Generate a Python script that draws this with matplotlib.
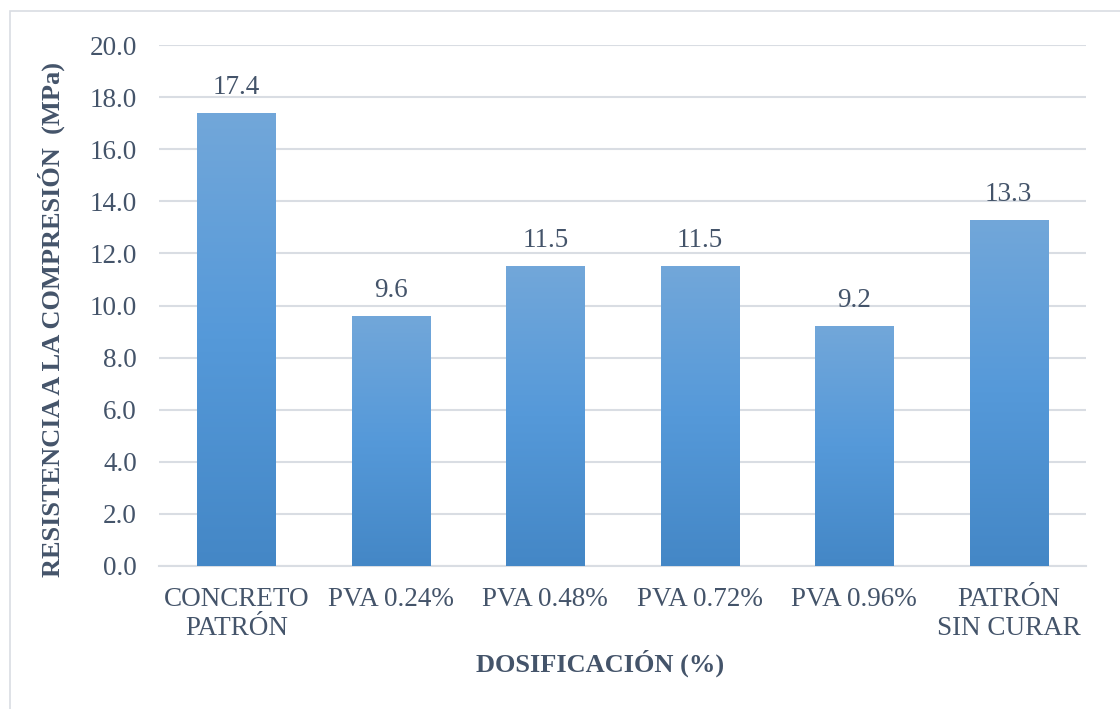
import numpy as np
import matplotlib.pyplot as plt
from matplotlib.patches import Rectangle
from matplotlib.colors import LinearSegmentedColormap

# Data
categories = ["CONCRETO\nPATRÓN", "PVA 0.24%", "PVA 0.48%", "PVA 0.72%", "PVA 0.96%", "PATRÓN\nSIN CURAR"]
values = [17.4, 9.6, 11.5, 11.5, 9.2, 13.3]
yticks = [0, 2, 4, 6, 8, 10, 12, 14, 16, 18, 20]

plt.rcParams['font.family'] = ['Liberation Serif', 'DejaVu Serif']
txt = '#44546A'

fig = plt.figure(figsize=(11.2, 7.09), dpi=100)
ax = fig.add_axes([0.142, 0.2017, 0.8276, 0.7348])

# outer chart border
fig.patches.append(Rectangle((10 / 1120, -0.05), 1.2, 1 - 11 / 709 + 0.05,
                             transform=fig.transFigure, fill=False,
                             edgecolor='#D9DDE3', linewidth=1.2))

x = np.arange(len(categories))
bars = ax.bar(x, values, width=0.505, color='none', zorder=3)

# vertical gradient fill for each bar
grad = np.linspace(0, 1, 256).reshape(-1, 1)
cmap = LinearSegmentedColormap.from_list('bar', ['#4487C6', '#5599D9', '#72A7DA'])
for b in bars:
    x0, w, h = b.get_x(), b.get_width(), b.get_height()
    im = ax.imshow(grad, cmap=cmap, aspect='auto', origin='lower',
                   extent=[x0, x0 + w, 0, h], zorder=3)
    im.set_clip_path(b)

for xi, v in zip(x, values):
    ax.text(xi, v + 0.5, f"{v:.1f}", ha='center', va='bottom', fontsize=19.5, color=txt)

ax.set_xlim(-0.5, len(categories) - 0.5)
ax.set_ylim(0, 20)
ax.set_yticks(yticks)
ax.set_yticklabels([f"{t:.1f}" for t in yticks])
ax.set_xticks(x)
ax.set_xticklabels(categories, linespacing=1.22)
ax.tick_params(axis='both', length=0, labelsize=19.5, labelcolor=txt)
ax.tick_params(axis='y', pad=16)
ax.tick_params(axis='x', pad=15)

ax.grid(axis='y', color='#D9DDE3', linewidth=1.5, zorder=0)
ax.set_axisbelow(True)
for s in ['top', 'right', 'left']:
    ax.spines[s].set_visible(False)
ax.spines['bottom'].set_color('#D9DDE3')
ax.spines['bottom'].set_linewidth(1.5)

ax.set_xlabel('DOSIFICACIÓN (%)', fontsize=19, fontweight='bold', color=txt)
ax.set_ylabel('RESISTENCIA A LA COMPRESIÓN  (MPa)', fontsize=19, fontweight='bold', color=txt)
ax.xaxis.set_label_coords(0.476, -0.16)
ax.yaxis.set_label_coords(-0.101, 0.474)

fig.savefig('out.png', dpi=100)
